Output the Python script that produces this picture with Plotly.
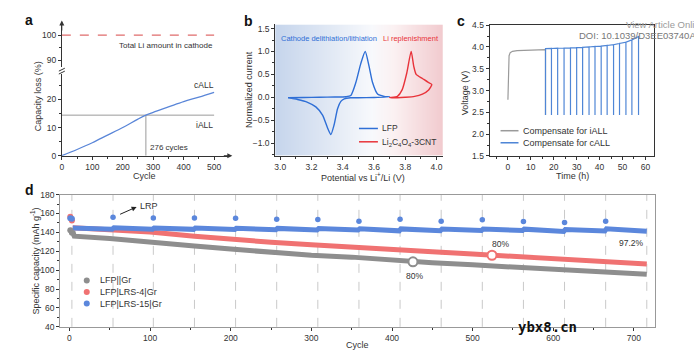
import plotly.graph_objects as go

W, H = 694, 361
def px(x): return x / W
def py(y): return 1 - y / H

FONT = "Liberation Sans, Arial, sans-serif"

# ---------------- Panel a data ----------------
cycle_a = [0, 50, 100, 150, 200, 250, 276, 300, 350, 400, 450, 500]
closs_a = [0, 2.2, 4.6, 7.3, 10.0, 13.0, 14.4, 15.4, 17.3, 19.2, 20.8, 22.5]
total_li_level = 100
iall_level = 14.4
cross_cycle = 276
a_span = [0, 500]

# ---------------- Panel b data ----------------
lfp_v = [3.05, 3.15, 3.25, 3.35, 3.42, 3.452, 3.484, 3.516, 3.544, 3.569, 3.591, 3.623, 3.665, 3.70,
         3.60, 3.50, 3.45, 3.41, 3.388, 3.367, 3.345, 3.324, 3.303, 3.271, 3.228, 3.175, 3.111, 3.05]
lfp_i = [-0.01, -0.005, 0.0, 0.005, 0.012, 0.04, 0.32, 0.74, 1.0, 0.67, 0.32, 0.07, 0.02, 0.01,
         -0.005, -0.01, -0.012, -0.035, -0.09, -0.25, -0.6, -0.815, -0.67, -0.39, -0.21, -0.11, -0.05, -0.015]
lco_v = [3.70, 3.75, 3.78, 3.81, 3.838, 3.855, 3.870, 3.91, 3.945, 3.97, 3.95, 3.91, 3.86, 3.80, 3.75, 3.70]
lco_i = [-0.01, 0.02, 0.16, 0.53, 1.0, 0.67, 0.5, 0.41, 0.33, 0.28, 0.16, 0.07, 0.02, 0.0, -0.01, -0.01]
bg_v = [2.96, 3.30, 3.58, 3.72, 4.05]

# ---------------- Panel c data ----------------
iall_t = [0, 0.2, 0.5, 1.0, 2.0, 4.0, 8.0, 12.0, 16.4, 16.4]
iall_v = [2.79, 3.55, 3.80, 3.87, 3.90, 3.915, 3.925, 3.93, 3.94, 2.44]
pulse_t = [16.4, 19.0, 21.7, 24.5, 27.3, 30.0, 32.6, 35.4, 38.0, 40.7, 43.3, 46.1, 48.7, 51.5, 54.1, 57.0]
pulse_top = [3.96, 3.965, 3.97, 3.975, 3.98, 3.985, 3.99, 4.0, 4.01, 4.02, 4.035, 4.05, 4.08, 4.11, 4.16, 4.24]
pulse_bottom = 2.44

# ---------------- Panel d data ----------------
grey_c = [4, 6, 50, 100, 155, 200, 257, 300, 350, 400, 426, 450, 500, 550, 600, 650, 700, 716]
grey_v = [141.5, 136, 133.5, 130.3, 125.7, 122.3, 118.0, 115.8, 113.8, 110.7, 108.8, 107.8, 105.6, 103.0, 100.5, 98.3, 96.2, 95.6]
red_c = [4, 50, 100, 155, 200, 250, 300, 350, 400, 450, 500, 524, 550, 600, 650, 700, 716]
red_v = [145, 143, 140.5, 136, 132.6, 129.5, 126.8, 124, 121.6, 119.5, 117, 115.8, 114.8, 111.7, 109.8, 107.5, 106.6]
blue_c = [4, 53, 55, 103, 105, 154, 156, 205, 207, 256, 258, 307, 309, 358, 360, 409, 411,
          460, 462, 511, 513, 562, 564, 613, 615, 664, 666, 716]
blue_v = [144.6, 143.4, 144.8, 143.3, 144.7, 143.2, 144.6, 143.0, 144.4, 142.8, 144.2, 142.5, 144.0,
          142.5, 143.8, 141.6, 143.7, 141.8, 143.5, 142.0, 143.6, 142.0, 143.4, 141.0, 143.0, 141.5, 143.8, 141.3]
init_c = [1, 3]
init_red = [156.5, 152.5]
init_blue = [155, 154.5]
init_grey = [142.2, 139.5]
lrp_c = [54, 104, 155, 206, 257, 308, 359, 410, 461, 512, 563, 614, 665]
lrp_cap = [156, 155.3, 155.3, 154.9, 153.9, 153.6, 151.9, 153.9, 151.9, 153.3, 151.6, 150.5, 151.9]
lrp_lines = [3, 54, 104, 155, 206, 257, 308, 359, 410, 461, 512, 563, 614, 665, 716]
grey_80 = (426, 108.8)
red_80 = (524, 115.8)
blue_end_label = "97.2%"

C_GREY = "#8e8e8e"
C_RED = "#f07272"
C_BLUE = "#5b87dc"

fig = go.Figure()

# ---- panel a traces ----
fig.add_trace(go.Scatter(x=a_span, y=[total_li_level] * 2, xaxis="x", yaxis="y2", mode="lines",
                         line=dict(color="#e06c6c", width=1.2, dash="dash"), showlegend=False))
fig.add_trace(go.Scatter(x=a_span, y=[iall_level] * 2, xaxis="x", yaxis="y", mode="lines",
                         line=dict(color="#9a9a9a", width=1), showlegend=False))
fig.add_trace(go.Scatter(x=[cross_cycle] * 2, y=[0, iall_level], xaxis="x", yaxis="y", mode="lines",
                         line=dict(color="#9a9a9a", width=1), showlegend=False))
fig.add_trace(go.Scatter(x=cycle_a, y=closs_a, xaxis="x", yaxis="y", mode="lines",
                         line=dict(color="#5a86d8", width=1.3, shape="spline"), showlegend=False))

# ---- panel b traces ----
fig.add_trace(go.Heatmap(x=bg_v, y=[-1.3, 1.6], z=[[0, 1, 2, 3, 4], [0, 1, 2, 3, 4]],
                         xaxis="x3", yaxis="y3", zsmooth="best", showscale=False, hoverinfo="skip",
                         colorscale=[[0, "#c6d5ec"], [0.25, "#e0e8f4"], [0.5, "#f8f9fc"],
                                     [0.75, "#fbf1f2"], [1, "#f1c9cd"]]))
fig.add_trace(go.Scatter(x=lfp_v, y=lfp_i, xaxis="x3", yaxis="y3", mode="lines",
                         line=dict(color="#2f6fd6", width=1.4, shape="spline", smoothing=0.6), showlegend=False))
fig.add_trace(go.Scatter(x=lco_v, y=lco_i, xaxis="x3", yaxis="y3", mode="lines",
                         line=dict(color="#e8333a", width=1.4, shape="spline", smoothing=0.6), showlegend=False))

# ---- panel c traces ----
fig.add_trace(go.Scatter(x=iall_t, y=iall_v, xaxis="x4", yaxis="y4", mode="lines",
                         line=dict(color="#9a9a9a", width=1.2), showlegend=False))
bt, bv = [], []
for t, v in zip(pulse_t, pulse_top):
    bt += [t, t, t]
    bv += [v, pulse_bottom, v]
fig.add_trace(go.Scatter(x=bt, y=bv, xaxis="x4", yaxis="y4", mode="lines",
                         line=dict(color="#4f86d6", width=1.2), showlegend=False))

# ---- panel d traces ----
for xv in lrp_lines:
    fig.add_shape(type="line", xref="x5", yref="y5 domain", x0=xv, x1=xv, y0=0, y1=1,
                  line=dict(color="#c9c9c9", width=1, dash="dash"), layer="below")
fig.add_trace(go.Scatter(x=grey_c, y=grey_v, xaxis="x5", yaxis="y5", mode="lines",
                         line=dict(color=C_GREY, width=5), showlegend=False))
fig.add_trace(go.Scatter(x=red_c, y=red_v, xaxis="x5", yaxis="y5", mode="lines",
                         line=dict(color=C_RED, width=5), showlegend=False))
fig.add_trace(go.Scatter(x=blue_c, y=blue_v, xaxis="x5", yaxis="y5", mode="lines",
                         line=dict(color=C_BLUE, width=5), showlegend=False))
fig.add_trace(go.Scatter(x=init_c, y=init_grey, xaxis="x5", yaxis="y5", mode="markers",
                         marker=dict(color=C_GREY, size=6), showlegend=False))
fig.add_trace(go.Scatter(x=init_c, y=init_red, xaxis="x5", yaxis="y5", mode="markers",
                         marker=dict(color=C_RED, size=6), showlegend=False))
fig.add_trace(go.Scatter(x=init_c, y=init_blue, xaxis="x5", yaxis="y5", mode="markers",
                         marker=dict(color=C_BLUE, size=6), showlegend=False))
fig.add_trace(go.Scatter(x=lrp_c, y=lrp_cap, xaxis="x5", yaxis="y5", mode="markers",
                         marker=dict(color=C_BLUE, size=5.5), showlegend=False))
fig.add_trace(go.Scatter(x=[grey_80[0]], y=[grey_80[1]], xaxis="x5", yaxis="y5", mode="markers",
                         marker=dict(color="white", size=9, line=dict(color=C_GREY, width=2)), showlegend=False))
fig.add_trace(go.Scatter(x=[red_80[0]], y=[red_80[1]], xaxis="x5", yaxis="y5", mode="markers",
                         marker=dict(color="white", size=9, line=dict(color=C_RED, width=2)), showlegend=False))

# ---------------- axes ----------------
base = dict(showline=True, linecolor="#333", linewidth=1, ticks="outside", ticklen=3, tickwidth=1,
            tickcolor="#333", showgrid=False, zeroline=False,
            tickfont=dict(family=FONT, size=8.5, color="#333"))

def ax(**kw):
    d = dict(base)
    d.update(kw)
    return d

mn = dict(ticklen=2, ticks="outside", tickcolor="#333")
layout = dict(
    width=W, height=H, margin=dict(l=0, r=0, t=0, b=0),
    paper_bgcolor="white", plot_bgcolor="rgba(0,0,0,0)", showlegend=False,
    font=dict(family=FONT, color="#333"),
    xaxis=ax(domain=[px(60), px(228)], range=[0, 550], anchor="y", tickvals=[0, 100, 200, 300, 400, 500],
             minor=dict(tickvals=[50, 150, 250, 350, 450], **mn)),
    yaxis=ax(domain=[py(155), py(71)], range=[0, 29], anchor="x", tickvals=[0, 10, 20],
             minor=dict(tickvals=[5, 15, 25], **mn)),
    yaxis2=ax(domain=[py(64), py(18)], range=[87.3, 105], anchor="x", tickvals=[90, 100],
              minor=dict(tickvals=[95], **mn)),
    xaxis3=ax(domain=[px(274), px(442)], range=[2.968, 4.04], anchor="y3", dtick=0.2, tick0=3.0,
              tickformat=".1f", minor=dict(dtick=0.1, **mn)),
    yaxis3=ax(domain=[py(155), py(20)], range=[-1.277, 1.59], anchor="x3", dtick=0.5, tick0=0,
              tickformat=".1f", minor=dict(dtick=0.25, **mn)),
    xaxis4=ax(domain=[px(489), px(654)], range=[-8, 63.8], anchor="y4", dtick=10, tick0=0, mirror=True,
              minor=dict(dtick=5, **mn)),
    yaxis4=ax(domain=[py(155.3), py(20.7)], range=[1.5, 4.5], anchor="x4", dtick=0.5, tick0=0,
              tickformat=".1f", mirror=True, minor=dict(dtick=0.25, **mn)),
    xaxis5=ax(domain=[px(58.3), px(655.3)], range=[-11.6, 726.7], anchor="y5", dtick=100, tick0=0,
              mirror=True, linecolor="#999", minor=dict(dtick=50, **mn)),
    yaxis5=ax(domain=[py(331), py(195)], range=[40, 180], anchor="x5", dtick=20, tick0=0,
              mirror=True, linecolor="#999", minor=dict(dtick=10, **mn)),
)
fig.update_layout(**layout)

anns = []
def txt(x, y, s, size=9, color="#333", xanchor="center", angle=0, bold=False, family=FONT):
    anns.append(dict(x=px(x), y=py(y), xref="paper", yref="paper", text=("<b>%s</b>" % s) if bold else s,
                     showarrow=False, xanchor=xanchor, yanchor="middle", textangle=angle,
                     font=dict(family=family, size=size, color=color)))

def arrow(x, y, axp, ayp, color="#333"):
    anns.append(dict(x=px(x), y=py(y), xref="paper", yref="paper", ax=axp, ay=ayp, showarrow=True,
                     arrowhead=2, arrowsize=1, arrowwidth=1, arrowcolor=color, text=" ",
                     font=dict(size=1)))

# panel letters
txt(27, 15, "a", 14, "#111", bold=True)
txt(247, 16, "b", 14, "#111", bold=True)
txt(460, 16, "c", 14, "#111", bold=True)
txt(28, 190, "d", 14, "#111", bold=True)

# panel a text
txt(164, 42, "Total Li amount in cathode", 8)
txt(203, 82, "cALL", 8.5)
txt(203, 123, "iALL", 8.5)
txt(167, 147, "276 cycles", 8)
txt(143, 175.5, "Cycle", 9)
txt(37, 94, "Capacity loss (%)", 9, angle=-90)
arrow(60, 16, 0, 12)
arrow(231, 155, -10, 0)
for yy in (66.5, 69.5):
    fig.add_shape(type="line", xref="paper", yref="paper", x0=px(57), x1=px(63), y0=py(yy + 1.5), y1=py(yy - 1.5),
                  line=dict(color="#333", width=1))

# panel b text
txt(247, 87, "Normalized current", 9, angle=-90)
txt(362, 176.5, "Potential vs Li<sup>+</sup>/Li (V)", 9)
txt(328, 34, "Cathode delithiation/lithiation", 7.5, "#2f6fd6")
txt(410, 34, "Li replenishment", 7.5, "#e8333a")
fig.add_shape(type="line", xref="paper", yref="paper", x0=px(358), x1=px(377), y0=py(127), y1=py(127),
              line=dict(color="#2f6fd6", width=1.5))
fig.add_shape(type="line", xref="paper", yref="paper", x0=px(358), x1=px(377), y0=py(140.7), y1=py(140.7),
              line=dict(color="#e8333a", width=1.5))
txt(379, 127, "LFP", 8.5, xanchor="left")
txt(379, 141, "Li<sub>2</sub>C<sub>4</sub>O<sub>4</sub>-3CNT", 8.5, xanchor="left")

# panel c text
txt(464, 90, "Voltage (V)", 9, angle=-90)
txt(572, 176, "Time (h)", 9)
fig.add_shape(type="line", xref="paper", yref="paper", x0=px(500), x1=px(518), y0=py(129.3), y1=py(129.3),
              line=dict(color="#9a9a9a", width=1.5))
fig.add_shape(type="line", xref="paper", yref="paper", x0=px(500), x1=px(518), y0=py(141.7), y1=py(141.7),
              line=dict(color="#4f86d6", width=1.5))
txt(520.5, 129.3, "Compensate for iALL", 9, xanchor="left")
txt(520.5, 141.7, "Compensate for cALL", 9, xanchor="left")
txt(624, 20, "View Article Online", 9.5, "#9a9a9a", xanchor="left")
txt(577, 31, "DOI: 10.1039/D3EE03740A", 9.5, "#777", xanchor="left")

# panel d text
txt(33, 263, "Specific capacity (mAh g<sup>-1</sup>)", 9, angle=-90)
txt(357, 350, "Cycle", 9)
txt(147, 206.5, "LRP", 9)
arrow(135, 207.7, -18, 8, "#222")
txt(414, 279, "80%", 8.5)
txt(500, 246, "80%", 8.5)
txt(631, 245, blue_end_label, 8.5)
for yy, col, lab in ((283.3, C_GREY, "LFP||Gr"), (295.2, C_RED, "LFP|LRS-4|Gr"), (307.1, C_BLUE, "LFP|LRS-15|Gr")):
    fig.add_shape(type="circle", xref="paper", yref="paper", xsizemode="pixel", ysizemode="pixel",
                  xanchor=px(85), yanchor=py(yy), x0=-3, x1=3, y0=-3, y1=3,
                  fillcolor=col, line=dict(color=col, width=0))
    txt(96.5, yy, lab, 9, xanchor="left")

txt(547, 331, "ybx8.cn", 14, "#111", bold=True, family="DejaVu Sans Mono, monospace")

fig.update_layout(annotations=anns)
fig.write_html("out.html", config={"displayModeBar": False},
               post_script="document.body.style.margin='0';document.body.style.overflow='hidden';")
